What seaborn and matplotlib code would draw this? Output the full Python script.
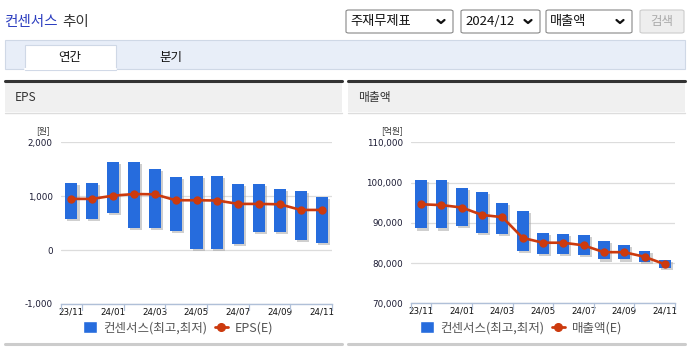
import matplotlib
matplotlib.use("Agg")
import matplotlib.pyplot as plt
import matplotlib.patheffects as pe
from matplotlib.patches import Rectangle, FancyBboxPatch
from matplotlib.lines import Line2D
import numpy as np
import pandas as pd
import seaborn as sns

months = ["23/11", "23/12", "24/01", "24/02", "24/03", "24/04", "24/05",
          "24/06", "24/07", "24/08", "24/09", "24/10", "24/11"]

eps_high = [1250, 1250, 1640, 1640, 1500, 1365, 1375, 1375, 1225, 1225, 1135, 1100, 980]
eps_low = [575, 575, 695, 415, 415, 355, 25, 25, 115, 335, 335, 190, 130]
eps_est = [950, 950, 1010, 1040, 1035, 925, 925, 920, 857, 857, 850, 745, 745]

sales_high = [100600, 100600, 98600, 97700, 94850, 93000, 87400, 87150, 87050, 85450, 84550, 82950, 80850]
sales_low = [88600, 88600, 89300, 87400, 87250, 83000, 82300, 82300, 82050, 80900, 80900, 80200, 78700]
sales_est = [94600, 94400, 93800, 91950, 91400, 86250, 85050, 85050, 84400, 82700, 82700, 81550, 79700]

eps_ticks = [-1000, 0, 1000, 2000]
sales_ticks = [70000, 80000, 90000, 100000, 110000]

BAR = "#266cdd"
LINE = "#cc3a0e"
W, H = 696, 352

sns.set_theme(style="white")
plt.rcParams["font.family"] = ["Noto Sans CJK KR", "DejaVu Sans"]

fig = plt.figure(figsize=(W / 100, H / 100), dpi=100)


def fx(x):
    return x / W


def fy(y):
    return 1 - y / H


def rect(x0, y0, x1, y1, fc, ec="none", lw=0.8):
    fig.patches.append(Rectangle((fx(x0), fy(y1)), fx(x1 - x0), (y1 - y0) / H,
                                 transform=fig.transFigure, facecolor=fc,
                                 edgecolor=ec, linewidth=lw, zorder=0))


def rbox(x0, x1, fc, ec):
    fig.patches.append(FancyBboxPatch((fx(x0), fy(33)), fx(x1 - x0), 23 / H,
                                      boxstyle="round,pad=0,rounding_size=0.004",
                                      transform=fig.transFigure, facecolor=fc,
                                      edgecolor=ec, linewidth=0.8))


def hline(x0, x1, y, color, lw):
    fig.lines.append(Line2D([fx(x0), fx(x1)], [fy(y), fy(y)], transform=fig.transFigure,
                            color=color, linewidth=lw))


# header
fig.text(fx(5), fy(22), "컨센서스", color="#2d3fc0", fontsize=10.5, va="center")
fig.text(fx(62), fy(22), "추이", color="#333333", fontsize=10.5, va="center")

boxes = [(346, 453, "주재무제표"), (461, 540, "2024/12"), (546, 632, "매출액")]
for x0, x1, label in boxes:
    rbox(x0, x1, "white", "#888888")
    fig.text(fx(x0 + 4), fy(21.5), label, fontsize=9.5, color="#111111", va="center")
    cx = x1 - 12
    fig.lines.append(Line2D([fx(cx - 3.5), fx(cx), fx(cx + 3.5)], [fy(20), fy(23), fy(20)],
                            transform=fig.transFigure, color="#111111", linewidth=1.6))
rbox(640, 684, "#eeeeee", "#cccccc")
fig.text(fx(662), fy(21.5), "검색", fontsize=9, color="#aaaaaa", va="center", ha="center")

# tabs
rect(5, 40, 685, 69, "#e8eef8", "#cfd8e6")
rect(25, 45, 116, 70, "white", "#cfd8e6")
hline(25.5, 115.5, 69.3, "white", 1.5)
fig.text(fx(70), fy(57), "연간", fontsize=9, color="#111111", ha="center", va="center")
fig.text(fx(171), fy(57), "분기", fontsize=9, color="#111111", ha="center", va="center")


def panel(x0, x1, title):
    rect(x0, 81, x1, 112, "#f0f0f0")
    hline(x0, x1, 80.5, "#333333", 2.2)
    hline(x0, x1, 112.5, "#dddddd", 1.0)
    hline(x0, x1, 343.5, "#cccccc", 2.2)
    fig.text(fx(x0 + 10), fy(97), title, fontsize=8.5, color="#333333", va="center")


panel(5, 342, "EPS")
panel(348, 685, "매출액")


def chart(box, high, low, est, ticks, unit, unit_x, line_label, legend_x):
    x0, x1, ytop, ybot = box
    ax = fig.add_axes([fx(x0), fy(ybot), fx(x1 - x0), (ybot - ytop) / H])
    ax.set_facecolor("none")
    df = pd.DataFrame({"month": months, "high": high, "low": low, "est": est,
                       "pos": np.arange(len(months))})
    df["span"] = df["high"] - df["low"]
    shadow = [pe.SimplePatchShadow(offset=(1.5, -1.5), shadow_rgbFace="#a8a8a8", alpha=0.55),
              pe.Normal()]
    ax.bar(df["pos"], df["span"], bottom=df["low"], width=0.58, color=BAR,
           linewidth=0, edgecolor="none", zorder=3, path_effects=shadow)
    sns.lineplot(data=df, x="pos", y="est", ax=ax, color=LINE, linewidth=1.9,
                 marker="o", markersize=6, markeredgewidth=0, zorder=4)
    ax.set_xlim(-0.5, len(months) - 0.5)
    ax.set_ylim(ticks[0], ticks[-1])
    ax.set_yticks(ticks)
    ax.set_yticklabels([f"{t:,}" for t in ticks], fontsize=6.3, color="#1a1a33",
                       family=["DejaVu Sans"])
    ax.yaxis.grid(True, color="#dcdcdc", linewidth=0.9)
    ax.set_axisbelow(True)
    ax.set_xticks(df["pos"][::2])
    ax.set_xticklabels(df["month"][::2], fontsize=6.3, color="#111111", family=["DejaVu Sans"])
    ax.tick_params(axis="x", length=0, pad=2.5)
    ax.tick_params(axis="y", length=0, pad=6)
    for b in list(np.arange(0.5, len(months) - 1, 2)) + [-0.5, len(months) - 0.5]:
        ax.plot([b, b], [0, -0.035], transform=ax.get_xaxis_transform(), color="#b0c0d8",
                linewidth=0.9, clip_on=False)
    for s in ["top", "right", "left"]:
        ax.spines[s].set_visible(False)
    ax.spines["bottom"].set_color("#b0c0d8")
    ax.spines["bottom"].set_linewidth(1.0)
    ax.set_xlabel("")
    ax.set_ylabel("")
    fig.text(fx(unit_x), fy(131), unit, fontsize=6.3, color="#333333", ha="center", va="center")
    handles = [Rectangle((0, 0), 1, 1, facecolor=BAR),
               Line2D([], [], color=LINE, linewidth=2, marker="o", markersize=5.5)]
    fig.legend(handles, ["컨센서스(최고,최저)", line_label], loc="center",
               bbox_to_anchor=(fx(legend_x), fy(328)), ncol=2, frameon=False,
               fontsize=9, labelcolor="#555555", handlelength=1.1, handleheight=1.1,
               handletextpad=0.5, columnspacing=0.6)
    return ax


chart((61, 332, 142.3, 304), eps_high, eps_low, eps_est, eps_ticks, "[원]", 43, "EPS(E)", 178)
chart((411, 675, 142.3, 303.3), sales_high, sales_low, sales_est, sales_ticks, "[억원]", 392,
      "매출액(E)", 521)

fig.savefig("out.png", dpi=100)
